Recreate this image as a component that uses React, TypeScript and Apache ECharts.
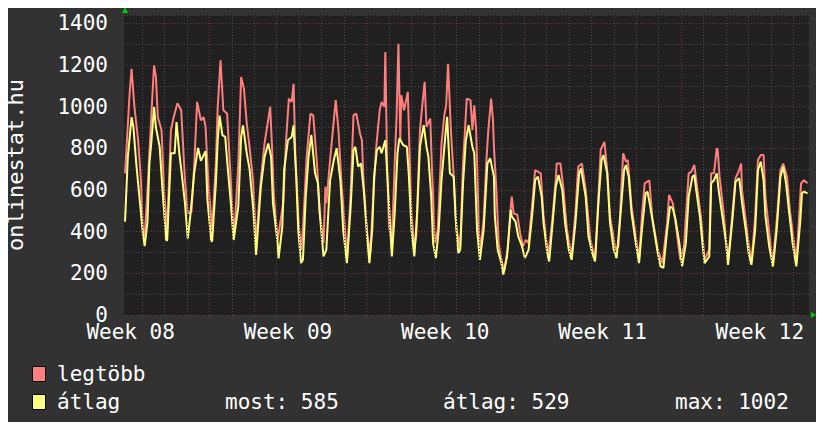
import React, { useEffect, useRef } from "react";
import * as echarts from "echarts";

// hours relative to the start of Week 09
const xMinHour = -91.1;
const xMaxHour = 640.5;

const maxHours = [-90,-85,-83,-80,-76,-73,-71,-69,-66,-62,-59,-57,-55,-51,-48,-45,-41,-38,-34,-30,-26,-23,-19,-16,-13,-9,-6,-4,-1,3,7,9,12,15,19,22,25,27,31,34,37,40,43,47,50,55,59,65,67,69,73,79,82,85,88,90,92,95,98,100,104,108,111,115,118,122,124,125,129,132,135,138,141,145,147,151,154,157,161,163,165,169,172,174,178,182,184,187,188,190,192,195,198,200,202,204,205,208,212,214,216,219,221,225,228,230,232,236,238,241,244,248,251,253,255,258,261,264,268,271,275,279,281,283,285,288,289,293,296,298,301,303,304,307,309,312,315,319,322,323,325,329,332,335,338,341,345,348,354,357,362,366,370,371,375,378,382,387,391,394,398,402,407,412,416,418,422,425,428,434,437,442,445,447,451,457,459,462,465,470,473,479,484,489,491,495,498,503,507,512,515,518,521,525,529,534,536,539,542,543,545,549,554,559,562,566,568,569,575,579,583,586,589,592,594,600,602,607,610,613,617,620,625,627,632,635,639];
const maxValues = [680,1070,1182,1000,839,648,410,378,600,950,1198,1142,950,887,569,410,887,950,1016,983,648,488,496,727,1023,935,950,903,632,410,727,999,1222,983,967,727,472,410,727,1142,1086,920,807,632,344,648,823,999,807,569,360,537,839,1039,1023,1110,760,473,313,408,760,966,959,727,488,345,616,537,744,887,1031,887,647,408,265,584,959,966,871,839,616,377,297,473,792,983,1023,999,1262,696,425,345,727,951,1302,839,1055,983,1071,760,473,329,377,887,1031,1119,903,943,680,345,408,823,959,1007,1206,887,672,408,329,727,1039,1031,887,1007,887,408,297,457,744,887,1039,935,807,568,345,265,210,329,520,568,488,481,393,329,361,345,537,696,680,473,281,441,647,727,727,616,408,281,488,712,727,600,361,265,600,792,831,696,473,313,329,776,736,744,520,329,265,473,632,647,473,313,249,441,576,537,441,265,329,680,688,720,616,473,265,313,680,680,800,792,664,505,249,505,656,696,727,600,377,249,473,744,768,768,568,313,249,505,696,727,664,505,329,249,632,647,632];

const avgHours = [-90,-87,-83,-81,-78,-74,-71,-69,-66,-64,-62,-59,-57,-53,-50,-46,-45,-41,-37,-35,-32,-30,-26,-23,-20,-16,-12,-9,-4,-2,2,3,7,9,11,14,17,19,23,26,31,34,36,40,43,47,50,55,59,63,66,68,73,74,78,80,84,88,90,93,95,98,100,103,106,109,113,116,118,122,125,129,133,136,140,143,147,151,154,156,159,162,165,168,171,174,176,179,182,184,188,191,195,198,201,203,207,211,213,216,219,222,225,229,232,234,237,239,242,245,248,252,254,257,261,263,266,268,271,274,277,281,283,286,289,293,297,300,304,305,308,312,314,318,322,323,327,330,334,337,341,345,348,351,355,357,361,363,366,370,373,377,380,384,387,391,395,397,402,405,409,412,416,419,421,425,428,432,435,439,443,445,448,451,455,459,462,466,468,471,475,479,482,485,489,492,495,498,502,505,509,512,516,518,521,524,527,529,534,536,539,542,544,548,552,554,559,562,566,569,573,576,579,583,586,589,592,594,598,602,606,610,613,616,619,623,627,631,633,635,639];
const avgValues = [448,759,950,900,727,537,394,331,448,727,823,998,900,807,600,360,357,776,776,926,776,700,537,368,488,686,802,740,786,553,360,352,632,839,957,863,855,743,537,360,522,855,910,776,700,505,288,615,759,823,759,537,344,272,424,700,839,855,910,647,408,249,265,568,760,864,680,632,488,281,313,647,744,800,647,408,249,520,792,807,712,727,600,408,249,408,664,792,807,776,839,600,281,488,776,848,816,807,680,408,281,488,807,911,807,760,568,345,273,408,647,855,951,680,664,473,297,313,632,839,911,807,776,408,265,408,727,752,664,473,313,249,194,281,505,473,449,377,329,273,313,488,647,664,568,441,297,257,408,616,672,600,441,313,265,441,680,704,568,377,297,257,568,744,768,680,441,313,273,473,696,720,664,488,361,249,408,584,592,520,408,297,233,226,408,520,513,457,345,233,345,568,664,672,568,473,329,249,281,632,647,680,600,473,345,241,473,640,656,537,408,297,241,408,696,736,647,473,329,233,408,664,712,632,505,345,233,441,584,592,584];

const dayLines = [-72,-48,-24,0,24,48,72,96,120,144,168,192,216,240,264,288,312,336,360,384,408,432,456,480,504,528,552,576,600,624];
const weekLines = [0,168,336,504];
const weekCenters = [-84,84,252,420,588];
const weekLabels = ["Week 08","Week 09","Week 10","Week 11","Week 12"];

const seriesNames = ["legtöbb","átlag"];
const seriesColors = ["#ff7f7f","#ffff7f"];
const statLabels = ["most","átlag","max"];
const statValues = [585,529,1002];

const yAxisTitle = "onlinestat.hu";
const FONT = "DejaVu Sans Mono";

export default function App() {
  const ref = useRef<HTMLDivElement>(null);
  useEffect(() => {
    if (!ref.current) return;
    const chart = echarts.init(ref.current, null, { renderer: "svg" });
    const gridMark = dayLines.map((h) => ({
      xAxis: h,
      lineStyle: {
        color: weekLines.includes(h) ? "#6e3b3b" : "#4c4c4c",
        type: [1, 2],
        width: 1,
      },
    }));
    const statX = [225, 443, 675];
    const legendRowY = [374, 402];
    const textFont = `21px "${FONT}"`;
    chart.setOption({
      animation: false,
      backgroundColor: "#323232",
      textStyle: { fontFamily: FONT },
      grid: {
        left: 124,
        top: 15,
        width: 685,
        height: 300,
        show: true,
        backgroundColor: "#202020",
        borderWidth: 0,
      },
      xAxis: {
        type: "value",
        min: xMinHour,
        max: xMaxHour,
        axisLine: { show: false },
        axisTick: { show: false },
        splitLine: { show: false },
        axisLabel: {
          customValues: weekCenters,
          color: "#ffffff",
          fontSize: 21,
          lineHeight: 16,
          fontFamily: FONT,
          margin: 9,
          formatter: (v: number) => {
            let best = 0;
            weekCenters.forEach((c, i) => {
              if (Math.abs(c - v) < Math.abs(weekCenters[best] - v)) best = i;
            });
            return weekLabels[best];
          },
        },
      },
      yAxis: {
        type: "value",
        min: 0,
        max: 1440,
        interval: 100,
        axisLine: { show: false },
        axisTick: { show: false },
        axisLabel: {
          color: "#ffffff",
          fontSize: 21,
          lineHeight: 14,
          fontFamily: FONT,
          margin: 16,
          formatter: (v: number) => (v % 200 === 0 ? String(v) : ""),
        },
        splitLine: {
          show: true,
          lineStyle: { color: ["#6e3b3b", "#4c4c4c"], type: [1, 2], width: 1 },
        },
      },
      series: [
        {
          name: "grid",
          type: "line",
          data: [],
          silent: true,
          z: 1,
          markLine: {
            silent: true,
            symbol: ["none", "none"],
            label: { show: false },
            data: gridMark,
          },
        },
        {
          name: seriesNames[0],
          type: "line",
          z: 2,
          showSymbol: false,
          data: maxHours.map((h, i) => [h, maxValues[i]]),
          itemStyle: { color: seriesColors[0] },
          lineStyle: { color: seriesColors[0], width: 2 },
        },
        {
          name: seriesNames[1],
          type: "line",
          z: 3,
          showSymbol: false,
          data: avgHours.map((h, i) => [h, avgValues[i]]),
          itemStyle: { color: seriesColors[1] },
          lineStyle: { color: seriesColors[1], width: 2 },
        },
      ],
      graphic: [
        {
          type: "text",
          x: 15,
          y: 165,
          rotation: Math.PI / 2,
          style: {
            text: yAxisTitle,
            fill: "#ffffff",
            font: `22px "${FONT}"`,
            align: "center",
            verticalAlign: "middle",
          },
        },
        {
          type: "polygon",
          shape: { points: [[122, 13], [128, 13], [125, 7]] },
          style: { fill: "#00cc00" },
        },
        {
          type: "polygon",
          shape: { points: [[811, 312], [811, 318], [816, 315]] },
          style: { fill: "#00cc00" },
        },
        ...seriesNames.map((n, i) => ({
          type: "rect",
          shape: { x: 32.5, y: legendRowY[i] - 7.5, width: 13, height: 15 },
          style: { fill: seriesColors[i], stroke: "#000000", lineWidth: 1 },
        })),
        ...seriesNames.map((n, i) => ({
          type: "text",
          x: 57,
          y: legendRowY[i],
          style: {
            text: n,
            fill: "#ffffff",
            font: textFont,
            align: "left",
            verticalAlign: "middle",
          },
        })),
        ...statLabels.map((l, i) => ({
          type: "text",
          x: statX[i],
          y: legendRowY[1],
          style: {
            text: `${l}: ${statValues[i]}`,
            fill: "#ffffff",
            font: textFont,
            align: "left",
            verticalAlign: "middle",
          },
        })),
      ],
    });
    return () => chart.dispose();
  }, []);
  return <div ref={ref} style={{ width: 824, height: 430, margin: -8 }} />;
}
